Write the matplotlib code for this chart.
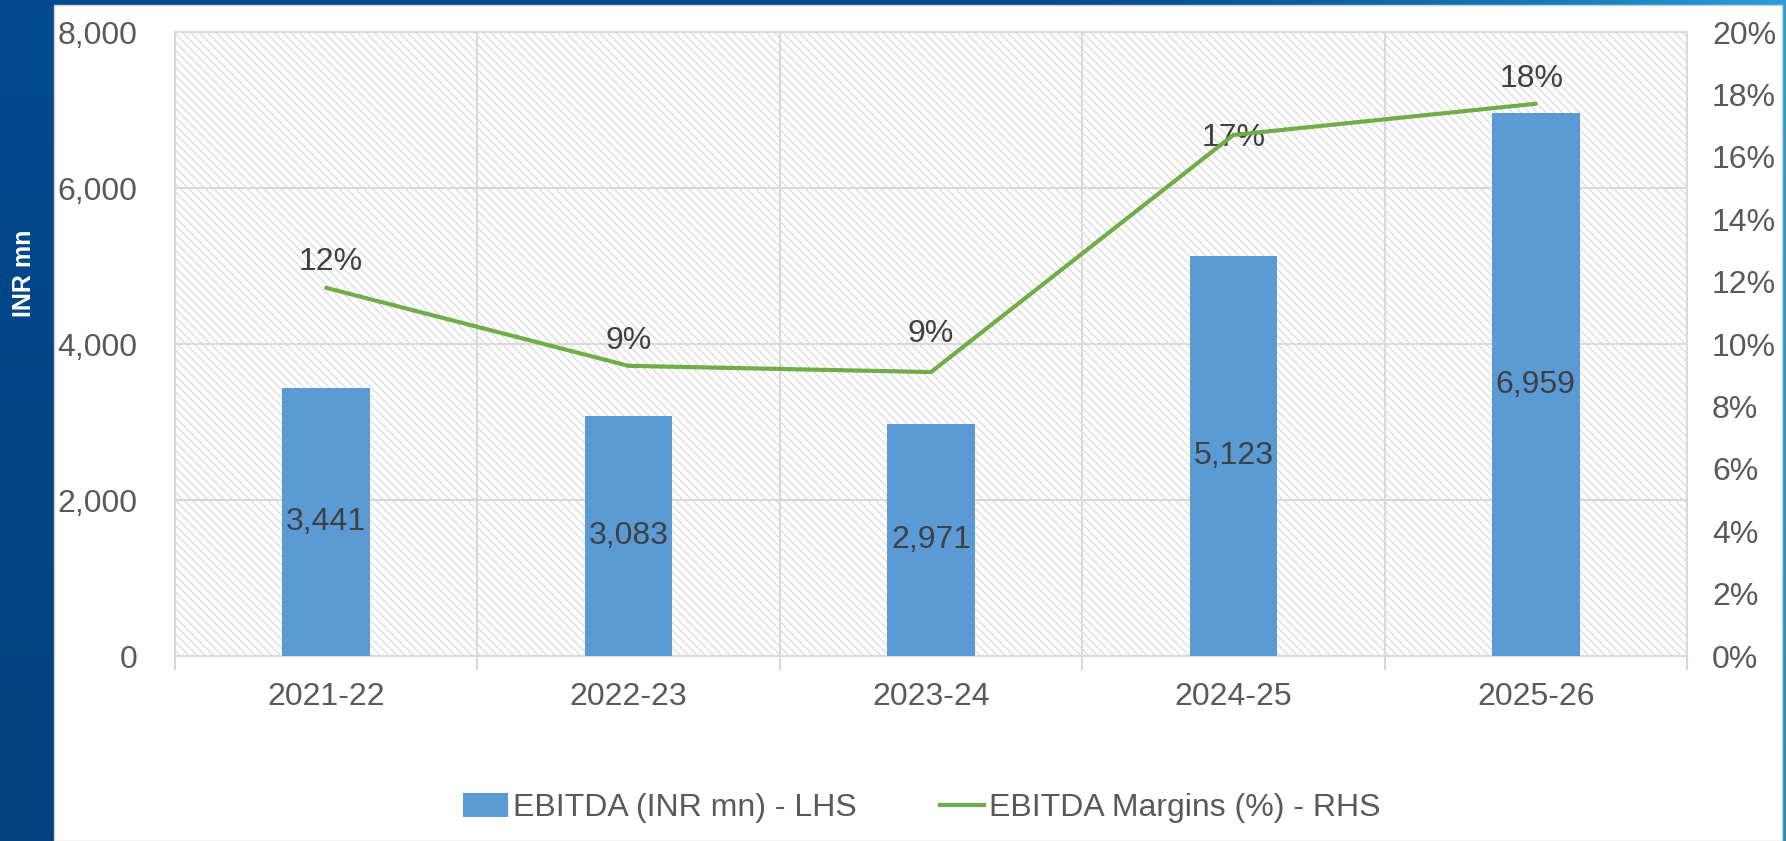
import numpy as np
import matplotlib.pyplot as plt
from matplotlib.patches import Rectangle
from matplotlib.lines import Line2D
from matplotlib.patches import Patch

plt.rcParams['font.family'] = ['Liberation Sans', 'DejaVu Sans']
plt.rcParams['hatch.linewidth'] = 1.0

# 数据
years = ['2021-22', '2022-23', '2023-24', '2024-25', '2025-26']
ebitda = [3441, 3083, 2971, 5123, 6959]
margin = [11.8, 9.3, 9.1, 16.7, 17.7]
margin_labels = ['12%', '9%', '9%', '17%', '18%']

# 标签偏移（像素）
lbl_offsets = [(4, 26), (0, 25), (0, 38), (0, -3), (-4, 25)]

W, H = 1786, 841
FS = 23
fig = plt.figure(figsize=(W / 100, H / 100), dpi=100)

# 背景渐变
bg = fig.add_axes([0, 0, 1, 1])
bg.set_axis_off()
xx = np.linspace(0, 1, 400)
t = np.clip((xx - 0.55) / 0.45, 0, 1) ** 1.6
dark = np.array([0, 74, 143]) / 255
light = np.array([40, 160, 220]) / 255
row = dark[None, :] * (1 - t[:, None]) + light[None, :] * t[:, None]
yy = np.linspace(0, 1, 200)
img = row[None, :, :] * (1 - 0.12 * yy[:, None, None])
bg.imshow(img, aspect='auto', extent=[0, 1, 0, 1], origin='upper')
bg.add_patch(Rectangle((54 / W, 0), (1782 - 54) / W, 836 / H, facecolor='white',
                       edgecolor='#d0d0d0', lw=1, transform=bg.transAxes))
bg.set_xlim(0, 1)
bg.set_ylim(0, 1)

ax = fig.add_axes([175 / W, (H - 656) / H, (1687 - 175) / W, (656 - 32) / H])
ax.patch.set_alpha(0)
hatch_bg = Rectangle((0, 0), 1, 1, transform=ax.transAxes, facecolor='white',
                     edgecolor='#dedede', hatch='\\\\\\\\', lw=0, zorder=0)
ax.add_patch(hatch_bg)

x = np.arange(len(years))
bars = ax.bar(x, ebitda, width=0.29, color='#5b9bd5', zorder=3)
ax.set_xlim(-0.5, len(years) - 0.5)
ax.set_ylim(0, 8000)
ax.set_yticks(range(0, 8001, 2000))
ax.set_yticklabels([f'{v:,}' for v in range(0, 8001, 2000)])
ax.set_xticks(x)
ax.set_xticklabels(years)
ax.set_xticks(np.arange(-0.5, len(years), 1), minor=True)
ax.tick_params(axis='x', which='major', length=0, pad=19, labelsize=FS, labelcolor='#595959')
ax.tick_params(axis='x', which='minor', length=10, width=1.5, color='#d9d9d9')
ax.tick_params(axis='y', length=0, pad=27, labelsize=FS, labelcolor='#595959')
ax.grid(axis='y', color='#d9d9d9', lw=1.5, zorder=1)
ax.grid(axis='x', which='minor', color='#d9d9d9', lw=1.5, zorder=1)
for s in ax.spines.values():
    s.set_color('#d9d9d9')
    s.set_linewidth(1.5)

for b, v in zip(bars, ebitda):
    ax.text(b.get_x() + b.get_width() / 2, v / 2, f'{v:,}', ha='center', va='center',
            fontsize=FS, color='#404040', zorder=5)

ax2 = ax.twinx()
ax2.plot(x, margin, color='#70ad47', lw=3, zorder=4, solid_capstyle='round')
ax2.set_ylim(0, 20)
ax2.set_yticks(range(0, 21, 2))
ax2.set_yticklabels([f'{v}%' for v in range(0, 21, 2)])
ax2.tick_params(axis='y', length=0, pad=18, labelsize=FS, labelcolor='#595959')
for s in ax2.spines.values():
    s.set_visible(False)

for xi, m, lab, (dx, dy) in zip(x, margin, margin_labels, lbl_offsets):
    ax2.annotate(lab, (xi, m), xytext=(dx, dy), textcoords='offset pixels',
                 ha='center', va='center', fontsize=FS, color='#404040')

ax.set_zorder(1)
ax2.set_zorder(2)

fig.text(24 / W, 1 - 273 / H, 'INR mn', rotation=90, ha='center', va='center',
         color='white', fontsize=18, fontweight='bold')

handles = [Patch(facecolor='#5b9bd5', label='EBITDA (INR mn) - LHS'),
           Line2D([0], [0], color='#70ad47', lw=3, label='EBITDA Margins (%) - RHS')]
fig.legend(handles=handles, loc='center', bbox_to_anchor=(922 / W, 1 - 808 / H), ncol=2,
           frameon=False, fontsize=FS, labelcolor='#595959', handlelength=1.4,
           handletextpad=0.15, columnspacing=2.6, handleheight=0.8)

fig.savefig('out.png', dpi=100)
